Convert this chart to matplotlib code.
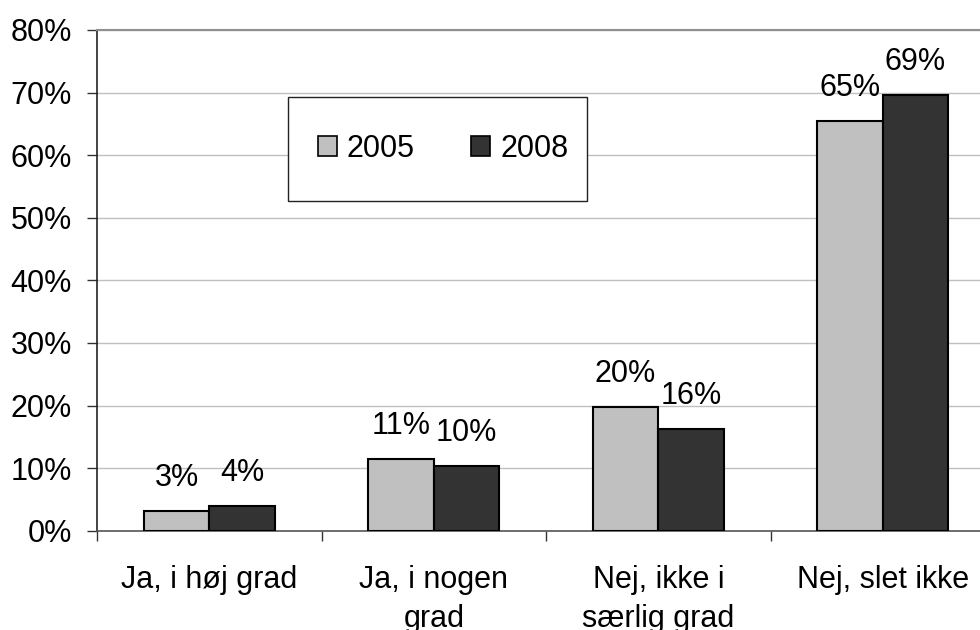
import matplotlib
matplotlib.use("Agg")
import matplotlib.pyplot as plt
import numpy as np
from matplotlib.patches import Patch, Rectangle

categories = ["Ja, i høj grad", "Ja, i nogen\ngrad", "Nej, ikke i\nsærlig grad", "Nej, slet ikke"]
series_names = ["2005", "2008"]
values_2005 = [3.1, 11.5, 19.7, 65.4]
values_2008 = [3.9, 10.4, 16.2, 69.6]
labels_2005 = ["3%", "11%", "20%", "65%"]
labels_2008 = ["4%", "10%", "16%", "69%"]
yticks = [0, 10, 20, 30, 40, 50, 60, 70, 80]
ytick_labels = ["0%", "10%", "20%", "30%", "40%", "50%", "60%", "70%", "80%"]

plt.rcParams['font.family'] = ['Liberation Sans', 'DejaVu Sans']
FS = 22
W, H = 980, 630

fig = plt.figure(figsize=(9.8, 6.3), dpi=100)
ax = fig.add_axes([0.099, 0.1576, 0.901, 0.7948])

x = np.arange(len(categories))
w = 0.292
c1, c2 = "#c0c0c0", "#333333"
b1 = ax.bar(x - w / 2, values_2005, w, color=c1, edgecolor="black", linewidth=1.5, zorder=3)
b2 = ax.bar(x + w / 2, values_2008, w, color=c2, edgecolor="black", linewidth=1.5, zorder=3)

for bars, labs in ((b1, labels_2005), (b2, labels_2008)):
    for r, lab in zip(bars, labs):
        ax.annotate(lab, (r.get_x() + r.get_width() / 2, r.get_height()),
                    xytext=(0, 13), textcoords="offset points",
                    ha="center", va="bottom", fontsize=FS)

ax.set_ylim(0, 80)
ax.set_xlim(-0.5, 3.5 - 15 / 224.5)
ax.set_yticks(yticks)
ax.set_yticklabels(ytick_labels, fontsize=FS)
ax.yaxis.grid(True, color="#c0c0c0", linewidth=1.0, zorder=0)
ax.set_axisbelow(True)

ax.set_xticks(x)
ax.set_xticklabels(categories, fontsize=FS, linespacing=1.38)
ax.set_xticks(np.arange(-0.5, 3.5, 1.0), minor=True)
ax.tick_params(axis="x", which="major", length=0, pad=25)
ax.tick_params(axis="x", which="minor", length=7, width=1, color="#333333", direction="out")
ax.tick_params(axis="y", length=7, width=1, color="#333333", direction="out", pad=11)

ax.spines["right"].set_visible(False)
ax.spines["top"].set_color("#909090")
ax.spines["top"].set_linewidth(1.5)
ax.spines["left"].set_color("#222222")
ax.spines["left"].set_linewidth(1.2)
ax.spines["bottom"].set_color("#555555")
ax.spines["bottom"].set_linewidth(1.2)

# legend box
fig.patches.append(Rectangle((288 / W, 1 - 201 / H), (587 - 288) / W, (201 - 97) / H,
                             transform=fig.transFigure, facecolor="white",
                             edgecolor="#222222", linewidth=1.0, zorder=4))
handles = [Patch(facecolor=c1, edgecolor="black", linewidth=1.2),
           Patch(facecolor=c2, edgecolor="black", linewidth=1.2)]
leg = fig.legend(handles, series_names, loc="center",
                 bbox_to_anchor=(443 / W, 1 - 149 / H),
                 ncol=2, fontsize=FS, frameon=False,
                 handlelength=0.62, handleheight=0.62, handletextpad=0.33,
                 columnspacing=1.85, borderpad=0, borderaxespad=0)
leg.set_zorder(5)

fig.savefig("out.png", dpi=100)
